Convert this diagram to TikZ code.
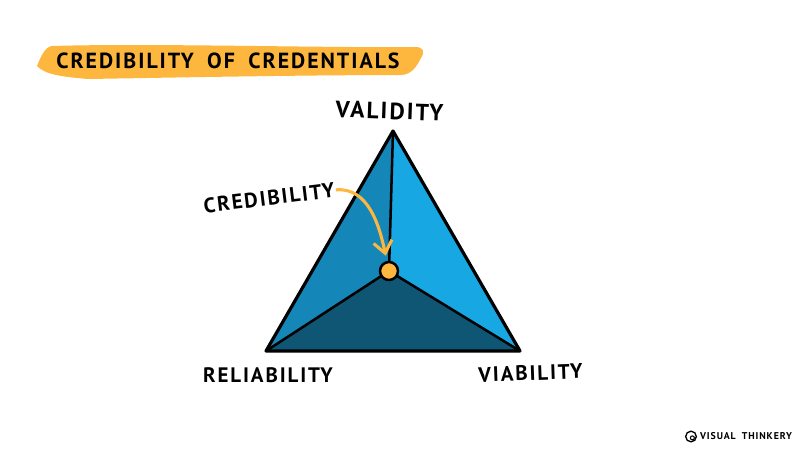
\documentclass[tikz,border=0pt]{standalone}
\usepackage{fontspec}
\setmainfont{PT Sans}
\newfontfamily\handfont[LetterSpace=9,WordSpace=1.8]{PT Sans}
\newcommand{\handsize}[1]{\handfont\fontsize{#1}{#1}\selectfont\bfseries}
\usetikzlibrary{positioning,arrows.meta}
\definecolor{bandyellow}{HTML}{FDB73E}
\definecolor{faceleft}{HTML}{1586B8}
\definecolor{faceright}{HTML}{17A8E3}
\definecolor{facebottom}{HTML}{0F5675}

\begin{document}
\begin{tikzpicture}[x=0.75pt, y=-0.75pt, node distance=2pt,
	handlabel/.style={inner sep=0pt, font=\handsize{15.7}},
	edgeline/.style={draw=black, line width=2.4pt, line join=round},
	spokeline/.style={draw=black, line width=1.9pt}]
	\useasboundingbox (0,0) rectangle (800,450);
	% title band
	\fill[bandyellow] (37,66) .. controls (41,56) and (45,47) .. (52,46)
		.. controls (150,43) and (320,48) .. (415,47)
		.. controls (424,47) and (425,52) .. (421,58)
		.. controls (417,66) and (412,74) .. (402,75)
		.. controls (300,75) and (150,78) .. (88,79)
		.. controls (65,77) and (45,75) .. (37,66) -- cycle;
	\node[handlabel, font=\handsize{16.4}] (title) at (228,60.5) {CREDIBILITY OF CREDENTIALS};
	% triangle
	\coordinate (top) at (393,131);
	\coordinate (left) at (266,351);
	\coordinate (right) at (520,351);
	\coordinate (mid) at (389,271);
	\fill[faceleft] (top) -- (left) -- (mid) -- cycle;
	\fill[faceright] (top) -- (right) -- (mid) -- cycle;
	\fill[facebottom] (left) -- (right) -- (mid) -- cycle;
	\draw[spokeline] (top) -- (mid);
	\draw[spokeline] (left) -- (mid);
	\draw[spokeline] (right) -- (mid);
	\draw[edgeline] (top) -- (left) -- (right) -- cycle;
	\node[draw=black, line width=1.9pt, fill=bandyellow, circle, minimum size=13.5pt, inner sep=0pt] (dot) at (mid) {};
	% labels
	\node[handlabel, font=\handsize{17.6}, rotate=-2] (validity) at (389.5,111) {VALIDITY};
	\node[handlabel] (reliability) at (268,375) {RELIABILITY};
	\node[handlabel, rotate=2] (viability) at (530.5,373) {VIABILITY};
	\node[handlabel, rotate=7] (credibility) at (269,198) {CREDIBILITY};
	\draw[bandyellow, line width=2.3pt, -{Straight Barb[length=9pt,width=14pt]}, shorten <=1pt, shorten >=4pt]
		(credibility.east) to[out=5, in=102] (dot);
	% signature
	\node[inner sep=0pt, font=\handsize{7.4}] (signature) at (746,436.5) {VISUAL THINKERY};
	\node[draw=black, line width=1pt, circle, minimum size=8pt, inner sep=0pt] (logo) at (691,436.5) {};
	\node[draw=black, line width=0.8pt, circle, minimum size=3pt, inner sep=0pt] (logoloop) [below right = -3.5pt and -3.5pt of logo] {};
\end{tikzpicture}
\end{document}
